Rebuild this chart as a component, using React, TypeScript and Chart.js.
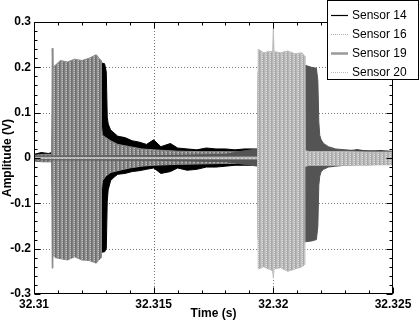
import React, { useEffect, useRef } from "react";
import { Chart, registerables } from "chart.js";

Chart.register(...registerables);

// ---------- data (envelopes) ----------
const xTicks = [32.31, 32.315, 32.32, 32.325];
const xTickLabels = ["32.31", "32.315", "32.32", "32.325"];
const yTicks = [-0.3, -0.2, -0.1, 0, 0.1, 0.2, 0.3];
const yTickLabels = ["-0.3", "-0.2", "-0.1", "0", "0.1", "0.2", "0.3"];

const s14Time = [32.31, 32.3103, 32.3106, 32.31075, 32.3108, 32.3115, 32.3122, 32.3128, 32.31295, 32.31302, 32.31306, 32.3131, 32.3132, 32.31335, 32.3135, 32.3138, 32.3141, 32.3144, 32.3147, 32.315, 32.3153, 32.3157, 32.316, 32.3164, 32.3168, 32.3172, 32.3176, 32.318, 32.3184, 32.3188, 32.3192, 32.3196, 32.32, 32.3205, 32.321, 32.3215, 32.322, 32.3225, 32.323, 32.3235, 32.324, 32.3245, 32.325];
const s14Upper = [0.008, 0.012, 0.01, 0.012, 0.2, 0.21, 0.212, 0.21, 0.208, 0.19, 0.09, 0.075, 0.062, 0.055, 0.048, 0.045, 0.038, 0.035, 0.03, 0.04, 0.025, 0.032, 0.022, 0.02, 0.018, 0.022, 0.02, 0.02, 0.018, 0.02, 0.02, 0.018, 0.02, 0.018, 0.02, 0.02, 0.016, 0.018, 0.015, 0.018, 0.015, 0.016, 0.014];
const s14Lower = [-0.006, -0.008, -0.008, -0.008, -0.2, -0.205, -0.208, -0.208, -0.207, -0.2, -0.095, -0.07, -0.05, -0.042, -0.036, -0.034, -0.03, -0.028, -0.025, -0.022, -0.034, -0.03, -0.022, -0.027, -0.025, -0.02, -0.02, -0.018, -0.016, -0.016, -0.016, -0.015, -0.015, -0.015, -0.014, -0.014, -0.014, -0.013, -0.013, -0.013, -0.012, -0.012, -0.012];

const s16Time = [32.31, 32.3104, 32.31074, 32.31076, 32.31079, 32.3109, 32.3111, 32.3114, 32.3117, 32.312, 32.3123, 32.3126, 32.3128, 32.31282, 32.31286, 32.313, 32.3132, 32.3135, 32.314, 32.3145, 32.315, 32.316, 32.317, 32.318, 32.319, 32.32, 32.321, 32.322, 32.323, 32.324, 32.325];
const s16Upper = [0.006, 0.008, 0.008, 0.242, 0.2, 0.205, 0.215, 0.212, 0.218, 0.215, 0.22, 0.228, 0.215, 0.07, 0.05, 0.045, 0.038, 0.03, 0.025, 0.02, 0.018, 0.015, 0.014, 0.014, 0.013, 0.012, 0.012, 0.012, 0.012, 0.012, 0.012];
const s16Lower = [-0.006, -0.008, -0.008, -0.243, -0.215, -0.22, -0.222, -0.225, -0.218, -0.225, -0.226, -0.232, -0.22, -0.07, -0.05, -0.04, -0.032, -0.028, -0.022, -0.018, -0.016, -0.014, -0.013, -0.012, -0.012, -0.012, -0.012, -0.012, -0.012, -0.012, -0.012];

const s19Time = [32.31, 32.315, 32.318, 32.3188, 32.31935, 32.31937, 32.3197, 32.32, 32.3205, 32.321, 32.3213, 32.3216, 32.3218, 32.32186, 32.3219, 32.32194, 32.322, 32.3221, 32.3223, 32.3226, 32.323, 32.3235, 32.324, 32.3245, 32.325];
const s19Upper = [0.004, 0.005, 0.008, 0.016, 0.02, 0.19, 0.19, 0.195, 0.2, 0.2, 0.205, 0.2, 0.198, 0.17, 0.08, 0.05, 0.04, 0.032, 0.025, 0.02, 0.018, 0.016, 0.016, 0.015, 0.015];
const s19Lower = [-0.004, -0.005, -0.008, -0.014, -0.018, -0.18, -0.18, -0.182, -0.185, -0.185, -0.185, -0.183, -0.18, -0.15, -0.06, -0.04, -0.03, -0.025, -0.02, -0.018, -0.016, -0.015, -0.015, -0.014, -0.014];

const s20Time = [32.31, 32.315, 32.3193, 32.31934, 32.31937, 32.3196, 32.3198, 32.31997, 32.32, 32.32003, 32.3203, 32.3206, 32.3209, 32.3212, 32.3213, 32.32132, 32.32136, 32.3215, 32.322, 32.323, 32.324, 32.325];
const s20Upper = [0.0015, 0.0015, 0.002, 0.002, 0.24, 0.232, 0.235, 0.235, 0.285, 0.235, 0.232, 0.236, 0.23, 0.232, 0.225, 0.02, 0.016, 0.014, 0.014, 0.014, 0.013, 0.013];
const s20Lower = [-0.0015, -0.0015, -0.002, -0.002, -0.245, -0.24, -0.245, -0.248, -0.265, -0.245, -0.242, -0.25, -0.245, -0.24, -0.235, -0.02, -0.018, -0.016, -0.016, -0.016, -0.015, -0.015];

// stripe textures: columns of [top, bottom] pixel colours
const s16Stripes = [["#7c7c7c", "#7c7c7c"], ["#9a9a9a", "#9a9a9a"], ["#c4c4c4", "#8a8a8a"], ["#6e6e6e", "#6e6e6e"]];
const s20Stripes = [["#b4b4b4", "#b4b4b4"], ["#c8c8c8", "#c8c8c8"], ["#e0e0e0", "#b0b0b0"], ["#a8a8a8", "#a8a8a8"]];

const sensors = [
  { label: "Sensor 14", t: s14Time, up: s14Upper, lo: s14Lower, color: "#000000", stripes: null as string[][] | null, order: 4, lg: { color: "#000000", width: 1.2, dash: [] as number[] } },
  { label: "Sensor 16", t: s16Time, up: s16Upper, lo: s16Lower, color: "#8a8a8a", stripes: s16Stripes, order: 3, lg: { color: "#b0b0b0", width: 1, dash: [1, 1] } },
  { label: "Sensor 19", t: s19Time, up: s19Upper, lo: s19Lower, color: "#545454", stripes: null, order: 2, lg: { color: "#999999", width: 2.5, dash: [] as number[] } },
  { label: "Sensor 20", t: s20Time, up: s20Upper, lo: s20Lower, color: "#bdbdbd", stripes: s20Stripes, order: 1, lg: { color: "#b8b8b8", width: 1, dash: [1, 1] } },
];

const FONT = "'Liberation Sans', Arial, sans-serif";

function makePattern(stripes: string[][] | null, color: string): any {
  if (!stripes) return color;
  const c = document.createElement("canvas");
  c.width = stripes.length;
  c.height = 2;
  const g = c.getContext("2d")!;
  stripes.forEach((col, i) => {
    col.forEach((clr, j) => { g.fillStyle = clr; g.fillRect(i, j, 1, 1); });
  });
  return g.createPattern(c, "repeat") || color;
}

const framePlugin = {
  id: "frame",
  beforeDatasetsDraw(chart: any) {
    const { ctx, chartArea: a, scales } = chart;
    const xs = scales.x, ys = scales.y;
    ctx.save();
    ctx.strokeStyle = "#7a7a7a";
    ctx.lineWidth = 1;
    ctx.setLineDash([1, 2]);
    xTicks.slice(1, -1).forEach((v) => {
      const px = Math.round(xs.getPixelForValue(v)) + 0.5;
      ctx.beginPath(); ctx.moveTo(px, a.top); ctx.lineTo(px, a.bottom); ctx.stroke();
    });
    yTicks.slice(1, -1).forEach((v) => {
      const py = Math.round(ys.getPixelForValue(v)) + 0.5;
      ctx.beginPath(); ctx.moveTo(a.left, py); ctx.lineTo(a.right, py); ctx.stroke();
    });
    ctx.restore();
  },
  afterDatasetsDraw(chart: any) {
    const { ctx, chartArea: a, scales } = chart;
    const xs = scales.x, ys = scales.y;
    ctx.save();
    ctx.strokeStyle = "#000";
    ctx.lineWidth = 1;
    const L = Math.round(a.left) + 0.5, R = Math.round(a.right) - 0.5;
    const T = Math.round(a.top) + 0.5, B = Math.round(a.bottom) - 0.5;
    ctx.strokeRect(L, T, R - L, B - T);
    ctx.beginPath();
    for (let k = 0; k <= 15; k++) {
      const v = 32.31 + k * 0.001;
      const len = k % 5 === 0 ? 6 : 3;
      const px = Math.round(xs.getPixelForValue(v)) + 0.5;
      ctx.moveTo(px, B); ctx.lineTo(px, B - len);
      ctx.moveTo(px, T); ctx.lineTo(px, T + len);
    }
    for (let k = 0; k <= 30; k++) {
      const v = -0.3 + k * 0.02;
      const len = k % 5 === 0 ? 6 : 3;
      const py = Math.round(ys.getPixelForValue(v)) + 0.5;
      ctx.moveTo(L, py); ctx.lineTo(L + len, py);
      ctx.moveTo(R, py); ctx.lineTo(R - len, py);
    }
    ctx.stroke();
    ctx.restore();
  },
  afterDraw(chart: any) {
    const ctx = chart.ctx;
    ctx.save();
    const bx = 327, by = 0, bw = 92, bh = 80;
    ctx.fillStyle = "#fff";
    ctx.fillRect(bx, by, bw, bh);
    ctx.strokeStyle = "#000";
    ctx.lineWidth = 1;
    ctx.strokeRect(bx + 0.5, by + 0.5, bw - 1, bh - 1);
    ctx.font = `12px ${FONT}`;
    ctx.textBaseline = "middle";
    ctx.fillStyle = "#000";
    sensors.forEach((s, i) => {
      const y = 15 + i * 19;
      ctx.beginPath();
      ctx.strokeStyle = s.lg.color;
      ctx.lineWidth = s.lg.width;
      ctx.setLineDash(s.lg.dash);
      ctx.moveTo(331, y + 0.5); ctx.lineTo(348, y + 0.5);
      ctx.stroke();
      ctx.setLineDash([]);
      ctx.fillText(s.label, 352, y + 1);
    });
    ctx.restore();
  },
};

export default function App() {
  const ref = useRef<HTMLCanvasElement>(null);
  useEffect(() => {
    document.body.style.margin = "0";
    const datasets: any[] = [];
    sensors.forEach((s, i) => {
      const fillStyle = makePattern(s.stripes, s.color);
      datasets.push({
        label: s.label,
        data: s.t.map((x, j) => ({ x, y: s.up[j] })),
        borderColor: s.color,
        backgroundColor: fillStyle,
        borderWidth: 1,
        pointRadius: 0,
        tension: 0,
        fill: 2 * i + 1,
        order: s.order,
      });
      datasets.push({
        label: "",
        data: s.t.map((x, j) => ({ x, y: s.lo[j] })),
        borderColor: s.color,
        backgroundColor: fillStyle,
        borderWidth: 1,
        pointRadius: 0,
        tension: 0,
        fill: false,
        order: s.order,
      });
    });
    const tickFont = { family: FONT, size: 12, weight: "bold" as const };
    const chart = new Chart(ref.current!, {
      type: "line",
      data: { datasets },
      plugins: [framePlugin],
      options: {
        animation: false,
        responsive: false,
        devicePixelRatio: 1,
        layout: { padding: { left: 0, top: 22, right: 27, bottom: 0 } },
        plugins: { legend: { display: false }, tooltip: { enabled: false } },
        scales: {
          x: {
            type: "linear",
            min: 32.31,
            max: 32.325,
            afterBuildTicks: (s: any) => { s.ticks = xTicks.map((v) => ({ value: v })); },
            afterFit: (s: any) => { s.height = 31; s.paddingLeft = 0; s.paddingRight = 0; },
            ticks: {
              callback: (_v: any, i: number) => xTickLabels[i],
              font: tickFont, color: "#000", padding: 3, maxRotation: 0, autoSkip: false,
            },
            grid: { display: false, drawTicks: false },
            border: { display: false },
            title: { display: true, text: "Time (s)", font: tickFont, color: "#000", padding: { top: 0, bottom: 4 } },
          },
          y: {
            type: "linear",
            min: -0.3,
            max: 0.3,
            afterBuildTicks: (s: any) => { s.ticks = yTicks.map((v) => ({ value: v })); },
            afterFit: (s: any) => { s.width = 34; },
            ticks: {
              callback: (_v: any, i: number) => yTickLabels[i],
              font: tickFont, color: "#000", padding: 3, autoSkip: false,
            },
            grid: { display: false, drawTicks: false },
            border: { display: false },
            title: { display: true, text: "Amplitude (V)", font: tickFont, color: "#000", padding: 0 },
          },
        },
      },
    });
    return () => chart.destroy();
  }, []);
  return (
    <div style={{ width: 420, height: 325 }}>
      <canvas ref={ref} width={420} height={325} style={{ display: "block" }} />
    </div>
  );
}
